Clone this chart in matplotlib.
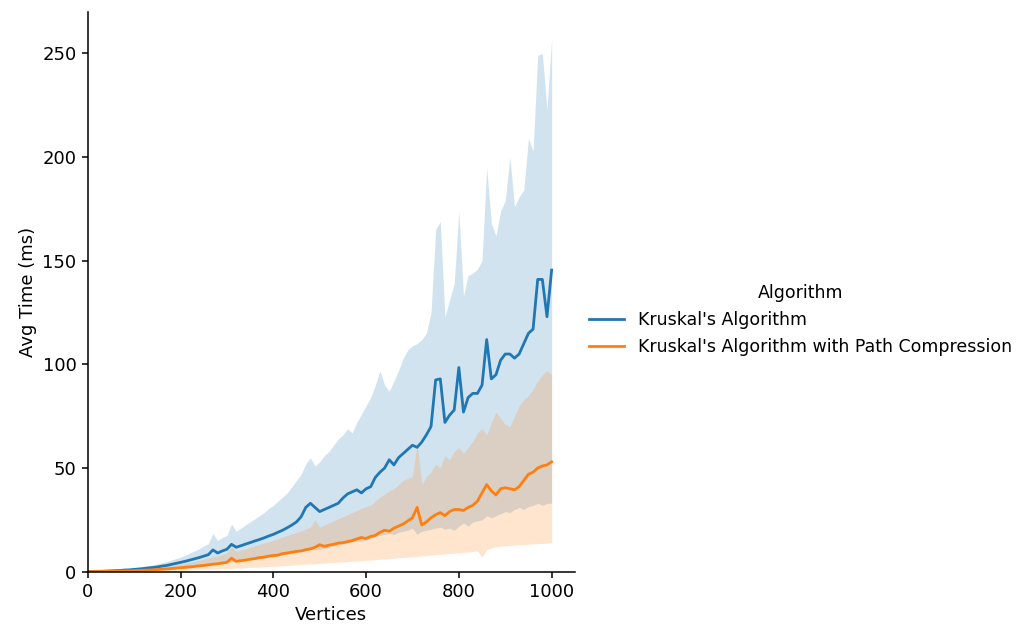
import matplotlib
matplotlib.use("Agg")
import matplotlib.pyplot as plt
import numpy as np

# vertices, step 10 from 0 to 1000
vertices = np.arange(0, 1001, 10)

kruskal_mean = [
    0.1, 0.1, 0.2, 0.2, 0.3, 0.4, 0.5, 0.6, 0.8, 0.9,
    1.1, 1.3, 1.5, 1.8, 2.0, 2.3, 2.7, 3.0, 3.5, 4.0,
    4.5, 5.0, 5.6, 6.2, 6.8, 7.5, 8.2, 10.5, 9.0, 10.0,
    10.8, 13.2, 11.8, 12.5, 13.3, 14.0, 14.8, 15.5, 16.3, 17.2,
    18.0, 19.0, 20.0, 21.2, 22.5, 24.0, 26.5, 31.0, 33.0, 31.0,
    29.0, 30.0, 31.0, 32.0, 33.0, 35.5, 37.5, 38.5, 39.5, 38.0,
    40.0, 41.0, 45.5, 48.0, 50.0, 54.0, 51.5, 55.0, 57.0, 59.0,
    61.0, 60.0, 62.5, 66.0, 70.0, 92.5, 93.0, 72.0, 75.5, 78.0,
    98.5, 77.0, 84.0, 86.0, 86.0, 90.0, 112.0, 93.0, 95.0, 102.0,
    105.0, 105.0, 103.0, 105.0, 110.0, 115.0, 117.0, 141.0, 141.0, 123.0, 145.5,
]
kruskal_hi = [
    0.2, 0.2, 0.3, 0.4, 0.5, 0.6, 0.8, 1.0, 1.2, 1.5,
    1.8, 2.1, 2.5, 2.9, 3.3, 3.8, 4.3, 4.9, 5.6, 6.3,
    7.0, 8.0, 9.0, 10.0, 11.0, 12.5, 13.5, 18.5, 15.0, 16.5,
    17.5, 23.0, 19.5, 21.0, 22.5, 24.0, 25.5, 27.0, 28.5, 30.5,
    32.0, 34.0, 36.0, 38.0, 41.0, 44.0, 47.0, 52.0, 55.0, 51.0,
    53.0, 56.0, 58.0, 61.0, 64.0, 66.0, 69.0, 67.0, 72.0, 76.0,
    80.0, 84.0, 90.0, 97.0, 90.0, 87.0, 92.0, 97.0, 103.0, 107.0,
    109.0, 110.0, 112.0, 115.0, 125.0, 165.0, 169.0, 123.0, 131.0, 139.0,
    174.0, 133.0, 143.0, 144.0, 146.0, 150.0, 195.0, 168.0, 162.0, 174.0,
    179.0, 200.0, 176.0, 181.0, 184.0, 209.0, 203.0, 249.0, 250.0, 223.0, 257.0,
]
kruskal_lo = [
    0.0, 0.0, 0.1, 0.1, 0.1, 0.2, 0.2, 0.3, 0.4, 0.4,
    0.5, 0.6, 0.7, 0.8, 0.9, 1.0, 1.2, 1.3, 1.5, 1.7,
    1.9, 2.1, 2.3, 2.5, 2.8, 3.0, 3.3, 3.6, 3.7, 4.0,
    4.3, 4.8, 4.8, 5.1, 5.4, 5.7, 6.0, 6.3, 6.6, 7.0,
    7.3, 7.7, 8.0, 8.4, 8.8, 9.2, 9.7, 10.2, 10.8, 10.5,
    10.8, 11.3, 11.8, 12.3, 12.8, 13.3, 13.8, 14.3, 14.8, 14.5,
    15.5, 16.0, 17.0, 17.5, 18.0, 18.5, 18.0, 19.0, 19.5, 20.0,
    21.0, 18.0, 19.5, 20.0, 20.5, 21.0, 21.5, 20.5, 21.0, 20.0,
    22.0, 23.5, 22.0, 24.0, 24.5, 25.0, 27.0, 26.0, 27.0, 28.0,
    29.0, 28.5, 30.0, 31.0, 30.0, 31.5, 32.0, 33.0, 32.0, 33.0, 33.0,
]

pc_mean = [
    0.05, 0.05, 0.1, 0.1, 0.15, 0.2, 0.25, 0.3, 0.35, 0.4,
    0.5, 0.6, 0.7, 0.8, 0.9, 1.0, 1.2, 1.3, 1.5, 1.7,
    1.9, 2.1, 2.3, 2.5, 2.8, 3.0, 3.3, 3.6, 3.8, 4.2,
    4.5, 6.5, 5.0, 5.3, 5.6, 6.0, 6.3, 6.8, 7.0, 7.5,
    7.8, 8.0, 8.7, 9.0, 9.4, 9.8, 10.0, 10.6, 11.0, 11.8,
    13.0, 12.2, 12.8, 13.2, 13.8, 14.0, 14.5, 15.0, 15.8, 16.5,
    16.0, 17.0, 17.5, 19.0, 20.0, 19.5, 21.0, 22.0, 23.0, 24.5,
    26.0, 31.0, 22.5, 24.0, 26.0, 27.5, 28.5, 27.0, 29.0, 30.0,
    30.0, 29.5, 31.0, 32.0, 34.0, 38.0, 42.0, 39.0, 37.0, 40.0,
    40.5, 40.0, 39.5, 41.0, 44.0, 47.0, 48.0, 50.0, 51.0, 51.5, 53.0,
]
pc_hi = [
    0.1, 0.1, 0.2, 0.2, 0.3, 0.4, 0.5, 0.6, 0.7, 0.8,
    1.0, 1.2, 1.4, 1.6, 1.8, 2.0, 2.3, 2.6, 2.9, 3.3,
    3.7, 4.1, 4.5, 5.0, 5.5, 6.0, 6.6, 7.2, 7.6, 8.3,
    9.0, 12.0, 9.8, 10.5, 11.0, 11.8, 12.5, 13.2, 13.8, 14.5,
    15.2, 15.8, 16.8, 17.5, 18.2, 19.0, 19.6, 20.5, 21.5, 25.0,
    21.5, 22.5, 23.5, 24.5, 25.5, 26.5, 27.5, 28.5, 29.5, 30.5,
    31.5, 32.0, 34.0, 36.0, 37.5, 39.0, 40.0, 42.0, 44.0, 45.0,
    46.0, 62.0, 42.0, 46.0, 48.0, 52.0, 50.0, 56.0, 54.0, 58.0,
    60.0, 57.0, 60.0, 63.0, 67.0, 69.0, 66.0, 72.0, 77.0, 74.0,
    71.0, 70.0, 75.0, 80.0, 83.0, 85.0, 88.0, 92.0, 95.0, 97.0, 95.0,
]
pc_lo = [
    0.0, 0.0, 0.0, 0.05, 0.05, 0.1, 0.1, 0.1, 0.1, 0.15,
    0.2, 0.2, 0.25, 0.3, 0.3, 0.35, 0.4, 0.5, 0.5, 0.6,
    0.7, 0.7, 0.8, 0.9, 1.0, 1.0, 1.1, 1.2, 1.3, 1.4,
    1.5, 1.6, 1.7, 1.8, 1.9, 2.0, 2.1, 2.2, 2.4, 2.5,
    2.6, 2.7, 2.9, 3.0, 3.1, 3.3, 3.4, 3.6, 3.7, 3.8,
    4.0, 4.1, 4.3, 4.4, 4.6, 4.7, 4.9, 5.0, 5.2, 5.3,
    5.5, 5.6, 5.8, 6.0, 6.2, 6.3, 6.5, 6.7, 6.9, 7.0,
    7.2, 7.4, 7.6, 7.8, 8.0, 8.2, 8.4, 8.6, 8.8, 9.0,
    9.0, 9.3, 9.5, 9.8, 10.0, 7.0, 10.5, 11.5, 12.0, 12.2,
    12.5, 12.6, 12.8, 13.0, 13.0, 13.2, 13.4, 13.5, 13.6, 13.8, 14.0,
]

series = [
    ("Kruskal's Algorithm", kruskal_mean, kruskal_lo, kruskal_hi, "#1f77b4"),
    ("Kruskal's Algorithm with Path Compression", pc_mean, pc_lo, pc_hi, "#ff7f0e"),
]

plt.rcParams["font.size"] = 13

fig = plt.figure(figsize=(10.32, 6.31), dpi=100)
ax = fig.add_axes([0.085, 0.094, 0.472, 0.887])

for label, mean, lo, hi, color in series:
    ax.fill_between(vertices, lo, hi, color=color, alpha=0.2, linewidth=0)
    ax.plot(vertices, mean, color=color, linewidth=2, label=label)

ax.set_xlim(0, 1050)
ax.set_ylim(0, 270)
ax.set_xticks([0, 200, 400, 600, 800, 1000])
ax.set_yticks([0, 50, 100, 150, 200, 250])
ax.tick_params(length=4.5, width=1.1, labelsize=13)
ax.set_xlabel("Vertices", fontsize=13)
ax.set_ylabel("Avg Time (ms)", fontsize=13)
ax.spines["top"].set_visible(False)
ax.spines["right"].set_visible(False)
ax.spines["left"].set_linewidth(1.1)
ax.spines["bottom"].set_linewidth(1.1)

handles, labels = ax.get_legend_handles_labels()
fig.legend(handles, labels, title="Algorithm", loc="center left",
           bbox_to_anchor=(0.556, 0.493), frameon=False,
           fontsize=12.5, title_fontsize=12.5, handlelength=2.0,
           handletextpad=0.8)

fig.savefig("out.png", dpi=100)
